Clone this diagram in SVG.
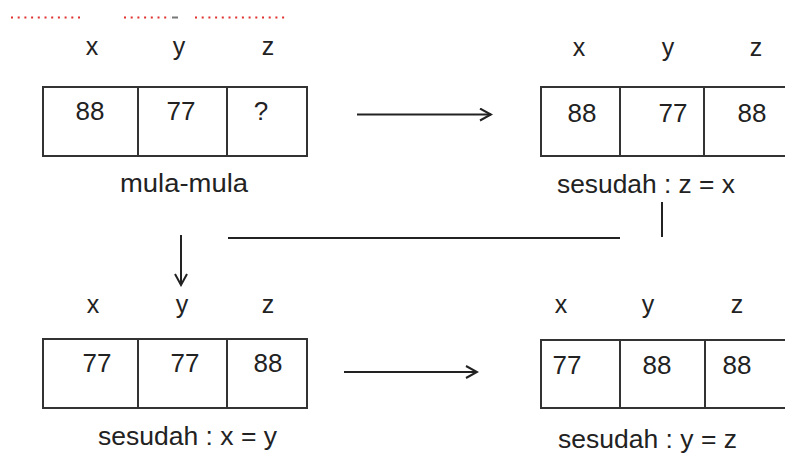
<svg xmlns="http://www.w3.org/2000/svg" width="785" height="455" viewBox="0 0 785 455">
<defs>
<style>
.box{fill:#fff;stroke:#333;stroke-width:2}
.div{stroke:#333;stroke-width:2}
.lbl{font-family:"Liberation Sans",Arial,sans-serif;font-size:25px;fill:#222;text-anchor:middle}
.val{font-family:"Liberation Sans",Arial,sans-serif;font-size:26px;fill:#222;text-anchor:middle}
.cap{font-family:"Liberation Sans",Arial,sans-serif;font-size:25px;fill:#222}
.conn{stroke:#222;stroke-width:2;fill:none}
.dots{stroke:#e03030;stroke-width:2;stroke-dasharray:2 4.7}
</style>
<marker id="arr" viewBox="0 0 14 14" refX="12" refY="7" markerWidth="14" markerHeight="14" markerUnits="userSpaceOnUse" orient="auto">
<path d="M1,1 L12,7 L1,13" fill="none" stroke="#222" stroke-width="2"/>
</marker>
</defs>
<rect width="785" height="455" fill="#fff"/>
<g id="spellmarks">
<line class="dots" x1="11" y1="17.5" x2="81" y2="17.5"/>
<line class="dots" x1="124" y1="17.5" x2="171" y2="17.5"/>
<line x1="172" y1="17.5" x2="178" y2="17.5" stroke="#777" stroke-width="2"/>
<line class="dots" x1="195" y1="17.5" x2="287" y2="17.5"/>
</g>
<g id="node-mula">
<text class="lbl" x="92" y="55">x</text>
<text class="lbl" x="179" y="55">y</text>
<text class="lbl" x="268" y="55">z</text>
<rect class="box" x="43" y="87" width="264" height="69"/>
<line class="div" x1="138" y1="87" x2="138" y2="156"/>
<line class="div" x1="227" y1="87" x2="227" y2="156"/>
<text class="val" x="90" y="120">88</text>
<text class="val" x="181" y="120">77</text>
<text class="val" x="261" y="120">?</text>
<text class="cap" x="120" y="192" textLength="128" lengthAdjust="spacingAndGlyphs">mula-mula</text>
</g>
<g id="node-zx">
<text class="lbl" x="579" y="56">x</text>
<text class="lbl" x="668" y="56">y</text>
<text class="lbl" x="756" y="56">z</text>
<rect class="box" x="541" y="87" width="260" height="69"/>
<line class="div" x1="620" y1="87" x2="620" y2="156"/>
<line class="div" x1="704" y1="87" x2="704" y2="156"/>
<text class="val" x="582" y="122">88</text>
<text class="val" x="673" y="122">77</text>
<text class="val" x="752" y="122">88</text>
<text class="cap" x="557" y="193" textLength="178" lengthAdjust="spacingAndGlyphs">sesudah : z = x</text>
</g>
<g id="node-xy">
<text class="lbl" x="93" y="313">x</text>
<text class="lbl" x="182" y="313">y</text>
<text class="lbl" x="268" y="313">z</text>
<rect class="box" x="43" y="339" width="264" height="69"/>
<line class="div" x1="138" y1="339" x2="138" y2="408"/>
<line class="div" x1="227" y1="339" x2="227" y2="408"/>
<text class="val" x="97" y="372">77</text>
<text class="val" x="185" y="372">77</text>
<text class="val" x="268" y="372">88</text>
<text class="cap" x="98" y="445" textLength="179" lengthAdjust="spacingAndGlyphs">sesudah : x = y</text>
</g>
<g id="node-yz">
<text class="lbl" x="561" y="313">x</text>
<text class="lbl" x="648" y="313">y</text>
<text class="lbl" x="737" y="313">z</text>
<rect class="box" x="541" y="340" width="260" height="68"/>
<line class="div" x1="620" y1="340" x2="620" y2="408"/>
<line class="div" x1="705" y1="340" x2="705" y2="408"/>
<text class="val" x="567" y="374">77</text>
<text class="val" x="657" y="374">88</text>
<text class="val" x="737" y="374">88</text>
<text class="cap" x="558" y="448" textLength="179" lengthAdjust="spacingAndGlyphs">sesudah : y = z</text>
</g>
<g id="connectors">
<line class="conn" x1="357" y1="114.5" x2="491" y2="114.5" marker-end="url(#arr)"/>
<line class="conn" x1="662" y1="202" x2="662" y2="237"/>
<line class="conn" x1="228" y1="238" x2="620" y2="238"/>
<line class="conn" x1="181" y1="235" x2="181" y2="285" marker-end="url(#arr)"/>
<line class="conn" x1="344" y1="372" x2="477" y2="372" marker-end="url(#arr)"/>
</g>
</svg>
